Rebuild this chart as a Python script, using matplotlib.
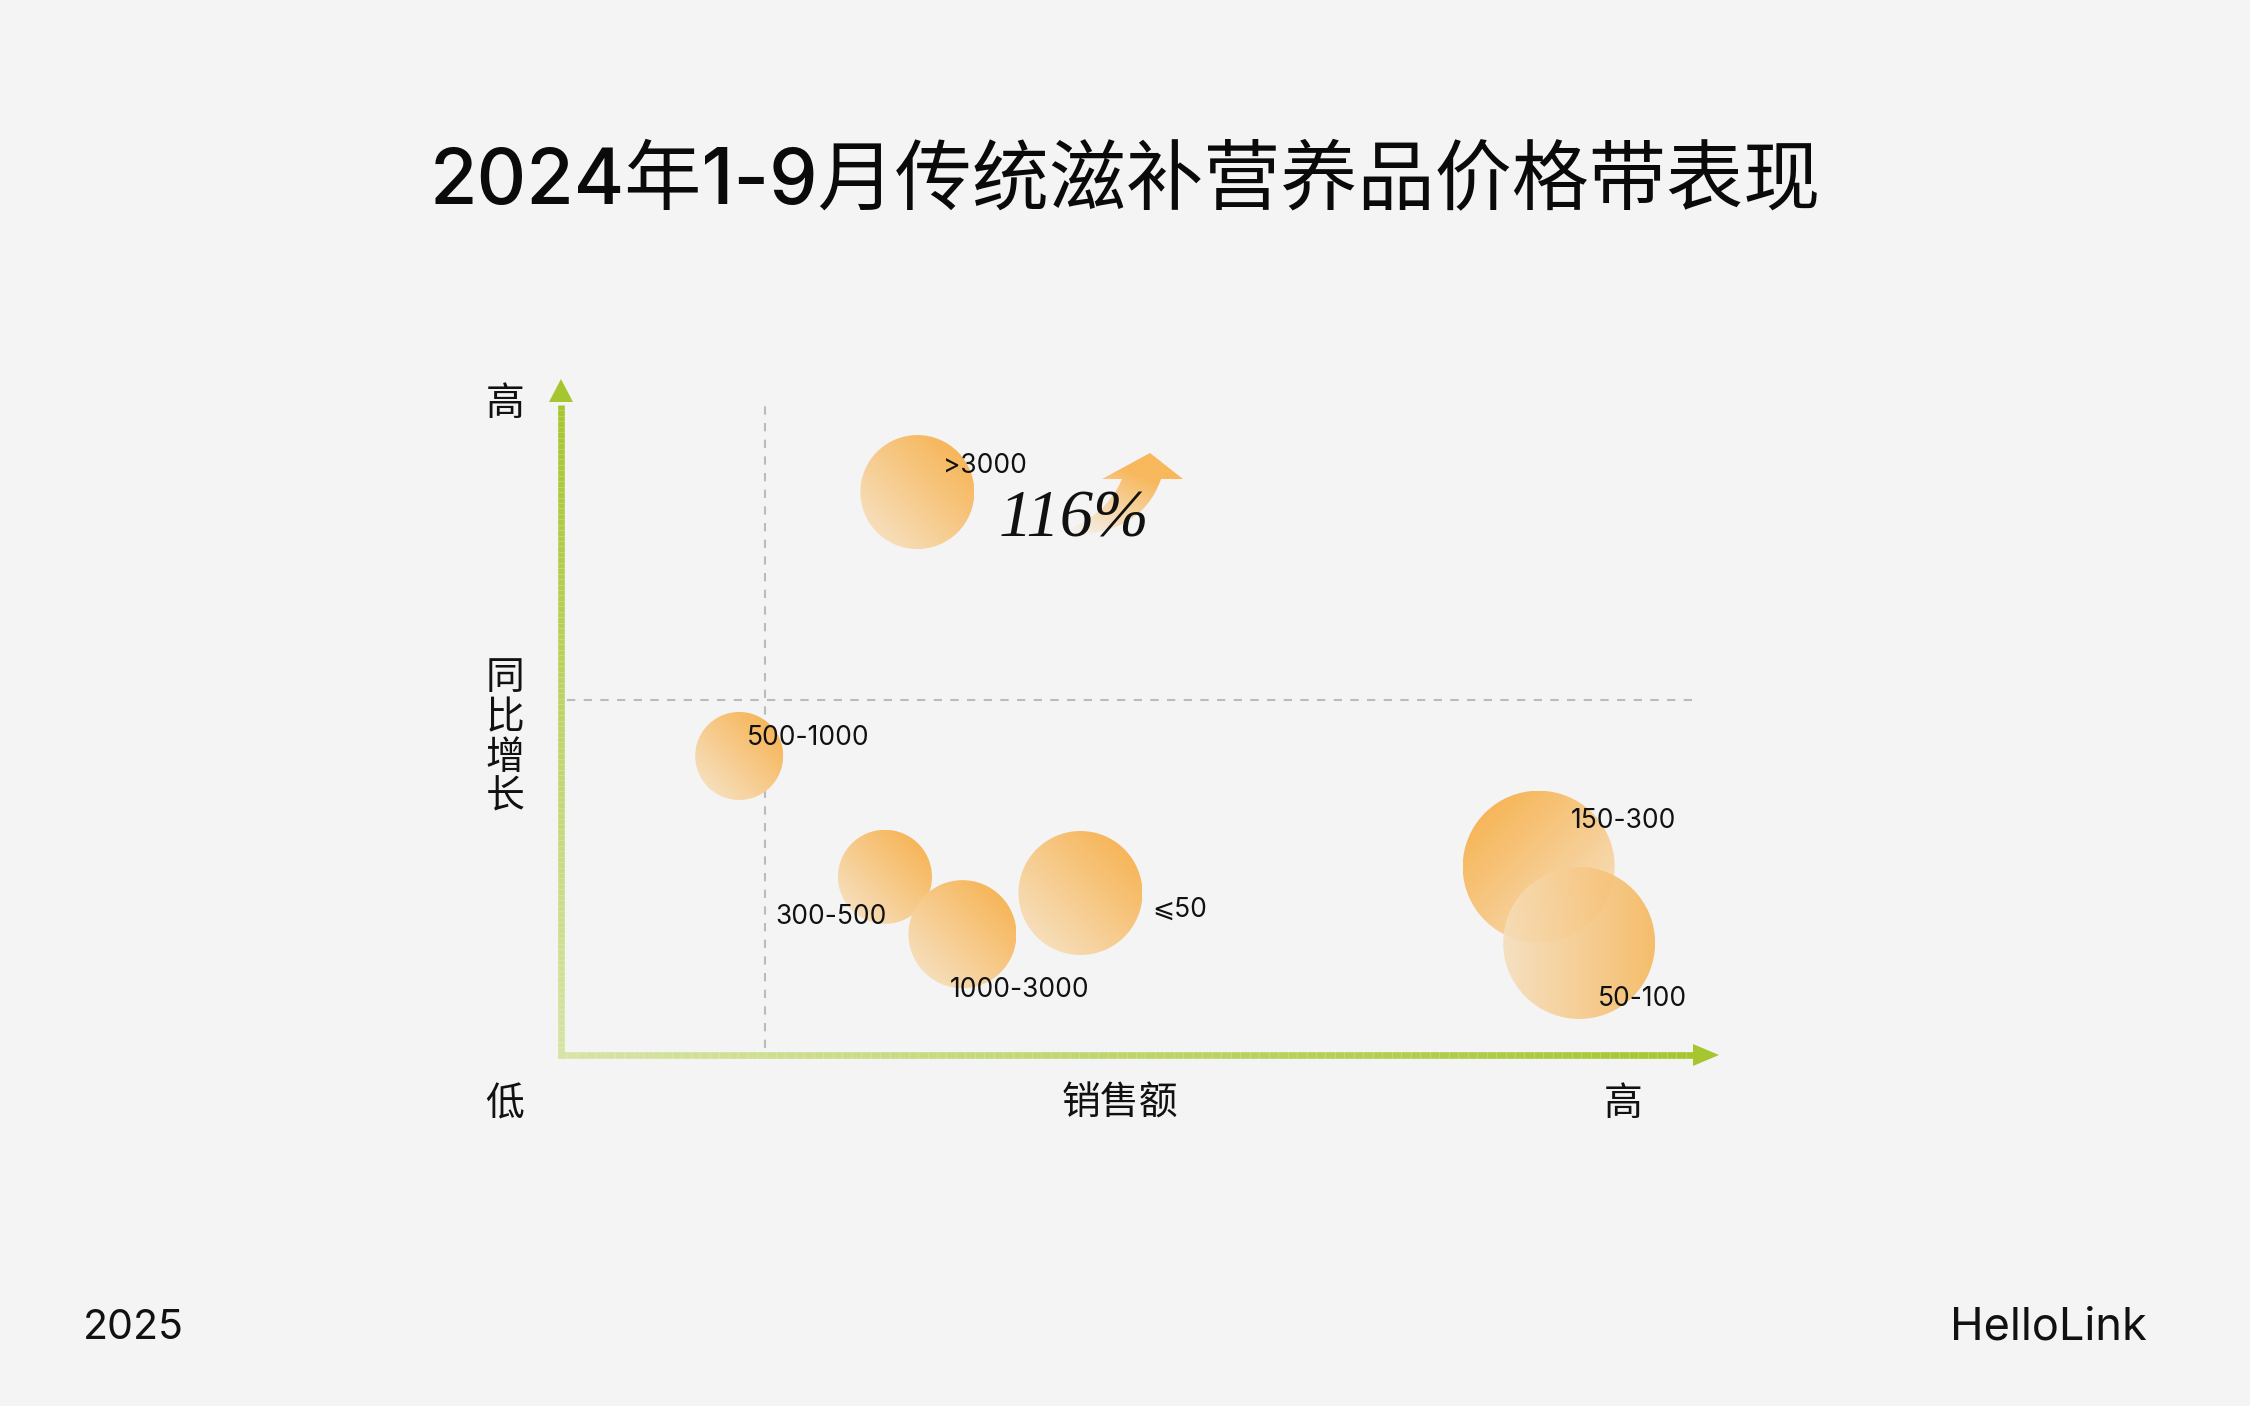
import numpy as np
import matplotlib
matplotlib.use("Agg")
import matplotlib.pyplot as plt
from matplotlib.patches import Ellipse, Polygon, PathPatch
from matplotlib.path import Path
from matplotlib.collections import LineCollection

plt.rcParams['font.family'] = ['Noto Sans CJK SC', 'DejaVu Sans']

# ---------------- data ----------------
price_bands = [">3000", "500-1000", "300-500", "1000-3000", "⩽50", "150-300", "50-100"]
sales = [30.8, 15.4, 28.0, 34.7, 44.9, 84.5, 88.0]          # relative sales (0-100)
growth = [83.4, 44.3, 26.4, 17.9, 24.0, 27.9, 16.6]          # relative YoY growth (0-100)
bubble_size = [57, 44, 47, 54, 62, 76, 76]                   # relative bubble radius
avg_sales = 17.6
avg_growth = 52.6
highlight = "116%"
title = "2024年1-9月传统滋补营养品价格带表现"

# ---------------- layout / style ----------------
W, H, DPI = 2250, 1406, 100
BG = "#F4F4F4"
ORANGE = np.array([247, 174, 70]) / 255
LIGHT = np.array([246, 230, 206]) / 255
GREEN = np.array([166, 198, 48]) / 255
GREEN_L = np.array([214, 228, 165]) / 255
grad_angle = [45, 45, 45, 45, 45, 135, 0]
label_offset = [(2.2, 3.8), (0.7, 2.7), (-9.5, -6.0), (-1.1, -8.3), (6.2, -2.5), (2.8, 6.8), (1.6, -8.3)]
LATIN = ['Inter', 'Noto Sans CJK SC', 'DejaVu Sans']

fig = plt.figure(figsize=(W / DPI, H / DPI), dpi=DPI, facecolor=BG)
ax_l, ax_r, ax_b, ax_t = 561, 1718, 1055, 380
ax = fig.add_axes([ax_l / W, 1 - ax_b / H, (ax_r - ax_l) / W, (ax_b - ax_t) / H])
ax.set_facecolor(BG)
ax.set_xlim(0, 100)
ax.set_ylim(0, 100)
ax.axis("off")

px_x = (ax_r - ax_l) / 100.0   # pixels per x unit
px_y = (ax_b - ax_t) / 100.0

# dashed reference lines
ax.plot([0.5, 98.3], [avg_growth, avg_growth], ls=(0, (4, 4)), color="#BBBBBB", lw=1.5, zorder=1)
ax.plot([avg_sales, avg_sales], [1, 96.4], ls=(0, (4, 4)), color="#BBBBBB", lw=1.5, zorder=1)

# bubbles with gradient
N = 200
g = np.linspace(-1, 1, N)
GX, GY = np.meshgrid(g, g)
for i, name in enumerate(price_bands):
    x, y, r = sales[i], growth[i], bubble_size[i]
    rx, ry = r / px_x, r / px_y
    a = np.deg2rad(grad_angle[i])
    t = (GX * np.cos(a) + GY * np.sin(a)) / 1.414 * 0.5 + 0.5
    t = np.clip(t, 0, 1)
    img = LIGHT[None, None, :] + (ORANGE - LIGHT)[None, None, :] * t[:, :, None]
    e = Ellipse((x, y), 2 * rx, 2 * ry, transform=ax.transData, facecolor="none", edgecolor="none")
    ax.add_patch(e)
    alpha = 0.88 if i == 6 else 1.0
    im = ax.imshow(img, extent=(x - rx, x + rx, y - ry, y + ry), origin="lower",
                   aspect="auto", zorder=2 + i, alpha=alpha, interpolation="bilinear")
    im.set_clip_path(e)
    dx, dy = label_offset[i]
    ax.text(x + dx, y + dy, name, fontsize=19, color="#111111", va="center", ha="left",
            zorder=20, family=['Inter', 'DejaVu Sans'])

ax.set_xlim(0, 100)
ax.set_ylim(0, 100)

# ---------------- gradient axis arrows (figure pixels) ----------------
fax = fig.add_axes([0, 0, 1, 1], facecolor="none")
fax.set_xlim(0, W)
fax.set_ylim(H, 0)
fax.axis("off")
fax.set_zorder(-1)
ax.set_zorder(1)

def grad_line(x0, y0, x1, y1, c0, c1, lw):
    n = 120
    xs = np.linspace(x0, x1, n + 1)
    ys = np.linspace(y0, y1, n + 1)
    segs = [[(xs[k], ys[k]), (xs[k + 1], ys[k + 1])] for k in range(n)]
    cols = [tuple(c0 + (c1 - c0) * (k / (n - 1))) for k in range(n)]
    fax.add_collection(LineCollection(segs, colors=cols, linewidths=lw, capstyle="butt"))

grad_line(ax_l, ax_b + 3, ax_l, 405, GREEN_L, GREEN, 4.8)
grad_line(ax_l - 3, ax_b, 1695, ax_b, GREEN_L, GREEN, 4.8)
fax.add_patch(Polygon([(ax_l - 12, 402), (ax_l + 12, 402), (ax_l, 379)], closed=True,
                      facecolor=GREEN, edgecolor="none"))
fax.add_patch(Polygon([(1693, ax_b - 11), (1693, ax_b + 11), (1719, ax_b)], closed=True,
                      facecolor=GREEN, edgecolor="none"))

# ---------------- growth arrow ----------------
verts = [(1053, 535), (1105, 520), (1122, 479), (1102, 479), (1150, 453), (1183, 479),
         (1161, 479), (1140, 540), (1053, 535)]
codes = [Path.MOVETO, Path.CURVE3, Path.CURVE3, Path.LINETO, Path.LINETO, Path.LINETO,
         Path.LINETO, Path.CURVE3, Path.CURVE3]
arrow_path = Path(verts, codes)
pp = PathPatch(arrow_path, facecolor="none", edgecolor="none")
fax.add_patch(pp)
nA = 200
gx, gy = np.meshgrid(np.linspace(0, 1, nA), np.linspace(0, 1, nA))
tt = np.clip(((gx) * 0.6 + (1 - gy) * 0.9) / 1.1, 0, 1)
rgba = np.zeros((nA, nA, 4))
rgba[..., :3] = np.array([248, 184, 92]) / 255
rgba[..., 3] = np.clip(tt * 1.2 - 0.15, 0, 1)
im = fax.imshow(rgba, extent=(1050, 1185, 540, 450), origin="upper", aspect="auto",
                interpolation="bilinear")
im.set_clip_path(pp)
fax.set_xlim(0, W)
fax.set_ylim(H, 0)

fig.text(1074 / W, 1 - 520 / H, highlight, fontsize=48, style="italic",
         family=["Liberation Serif"], color="#111111", ha="center", va="center")

# ---------------- texts ----------------
fig.text(0.5, 1 - 184 / H, title, fontsize=55.5, fontweight="medium", ha="center", va="center",
         color="#0A0A0A", family=LATIN)
lab_kw = dict(fontsize=28, color="#111111", ha="center", va="center")
fig.text(505 / W, 1 - 404 / H, "高", **lab_kw)
fig.text(505 / W, 1 - 738 / H, "同\n比\n增\n长", linespacing=1.0, **lab_kw)
fig.text(505 / W, 1 - 1104 / H, "低", **lab_kw)
fig.text(1120 / W, 1 - 1104 / H, "销售额", **lab_kw)
fig.text(1623 / W, 1 - 1104 / H, "高", **lab_kw)

fig.text(83 / W, 1 - 1328 / H, "2025", fontsize=29.5, color="#111111", ha="left", va="center",
         family=LATIN)
fig.text(2147 / W, 1 - 1328 / H, "HelloLink", fontsize=32.5, color="#111111", ha="right",
         va="center", family=LATIN)

fig.savefig("out.png", dpi=DPI, facecolor=BG)
